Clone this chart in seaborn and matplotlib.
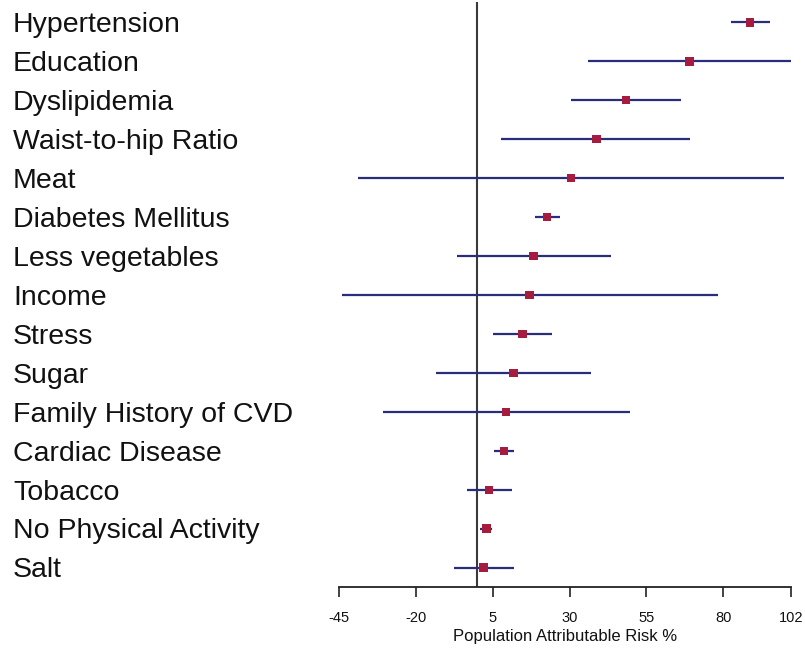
import matplotlib
matplotlib.use("Agg")
import matplotlib.pyplot as plt
import seaborn as sns
import pandas as pd

factors = ["Hypertension", "Education", "Dyslipidemia", "Waist-to-hip Ratio", "Meat",
           "Diabetes Mellitus", "Less vegetables", "Income", "Stress", "Sugar",
           "Family History of CVD", "Cardiac Disease", "Tobacco", "No Physical Activity", "Salt"]
par = [88.7, 69.0, 48.4, 38.7, 30.5, 22.7, 18.3, 17.0, 14.7, 11.7, 9.3, 8.6, 3.8, 2.9, 2.0]
lower = [82.4, 36.1, 30.3, 7.7, -38.7, 18.7, -6.6, -44.1, 5.0, -13.5, -30.8, 5.5, -3.4, 0.9, -7.7]
upper = [95.2, 102.0, 66.1, 69.2, 99.8, 27.0, 43.6, 78.3, 24.4, 37.1, 49.8, 11.8, 11.3, 4.9, 11.8]
tick_values = [-45, -20, 5, 30, 55, 80, 102]
tick_labels = ["-45", "-20", "5", "30", "55", "80", "102"]

df = pd.DataFrame({"factor": factors, "par": par, "lower": lower, "upper": upper})
df["row"] = range(len(df))

sns.set_style("white")
plt.rcParams["font.family"] = ["Liberation Sans", "DejaVu Sans"]

fig = plt.figure(figsize=(8.05, 6.48), dpi=100)
ax = fig.add_axes([339 / 805, 1 - 587 / 648, (791 - 339) / 805, (587 - 2) / 648])

ax.axvline(0, color="#3a3a3a", lw=1.5, zorder=1)
ax.hlines(df["row"], df["lower"], df["upper"], color="#2a2c7c", lw=1.6, zorder=2)
sns.scatterplot(data=df, x="par", y="row", marker="s", s=38, color="#a51c3e",
                edgecolor="none", zorder=3, ax=ax, legend=False)

ax.set_xlim(-45, 102)
ax.set_ylim(len(df) - 1 + 0.495, -0.52)
ax.set_yticks([])
ax.set_ylabel("")
for sp in ["top", "right", "left"]:
    ax.spines[sp].set_visible(False)
ax.spines["bottom"].set_color("#222222")
ax.spines["bottom"].set_linewidth(1.3)
ax.set_xticks(tick_values)
ax.set_xticklabels(tick_labels, fontsize=10.5)
ax.tick_params(axis="x", length=7, width=1.2, color="#222222", direction="out",
               bottom=True, pad=10, labelcolor="#111111")
ax.set_xlabel("Population Attributable Risk %", fontsize=12, labelpad=3, color="#111111")

for r, name in zip(df["row"], df["factor"]):
    ax.text(-0.7212 * 452 / 452, r + 0.25, name, transform=ax.get_yaxis_transform(),
            ha="left", va="baseline", fontsize=20.5, color="#111111")

fig.savefig("out.png", dpi=100, facecolor="white")
